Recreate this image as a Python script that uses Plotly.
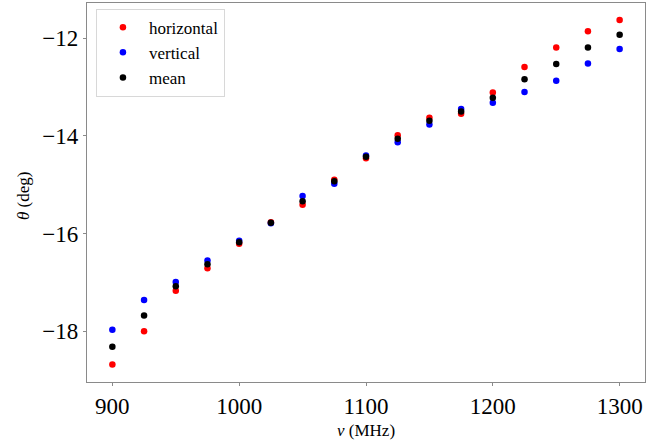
import plotly.graph_objects as go

freq = [900, 925, 950, 975, 1000, 1025, 1050, 1075, 1100, 1125, 1150, 1175, 1200, 1225, 1250, 1275, 1300]
horizontal = [-18.68, -18.00, -17.17, -16.71, -16.21, -15.77, -15.41, -14.90, -14.46, -13.99, -13.63, -13.55, -13.11, -12.59, -12.19, -11.86, -11.63]
vertical = [-17.97, -17.36, -16.99, -16.55, -16.15, -15.79, -15.23, -14.98, -14.40, -14.13, -13.77, -13.45, -13.32, -13.10, -12.87, -12.52, -12.22]
mean = [-18.32, -17.68, -17.08, -16.63, -16.18, -15.78, -15.34, -14.93, -14.43, -14.06, -13.69, -13.50, -13.22, -12.84, -12.53, -12.19, -11.93]

xticks = [900, 1000, 1100, 1200, 1300]
yticks = [-18, -16, -14, -12]

FONT = "Liberation Serif"
W, H = 665, 441
ML, MR, MT, MB = 87, 20, 3, 59
PW, PH = W - ML - MR, H - MT - MB

fig = go.Figure()
for name, vals, col in [("horizontal", horizontal, "#ff0000"),
                        ("vertical", vertical, "#0000ff"),
                        ("mean", mean, "#000000")]:
    fig.add_trace(go.Scatter(x=freq, y=vals, mode="markers", name=name,
                             marker=dict(color=col, size=6.5, line=dict(width=0))))

axis_common = dict(showgrid=False, zeroline=False, showline=True, mirror=True,
                   linecolor="#8a8a8a", linewidth=1.2, ticks="outside", ticklen=3,
                   tickcolor="#8a8a8a", tickwidth=1, automargin=False,
                   tickfont=dict(family=FONT, size=23, color="#000"))

fig.update_layout(
    width=W, height=H,
    margin=dict(l=ML, r=MR, t=MT, b=MB, autoexpand=False),
    paper_bgcolor="white", plot_bgcolor="white",
    font=dict(family=FONT, color="#000"),
    xaxis=dict(range=[880, 1320], tickvals=xticks, ticktext=[str(t) for t in xticks],
               **axis_common),
    yaxis=dict(range=[-19.04, -11.28], tickvals=yticks,
               ticktext=["\u2212" + str(-t) for t in yticks],
               **axis_common),
    legend=dict(x=0.016, y=0.985, xanchor="left", yanchor="top",
                bgcolor="rgba(255,255,255,0.8)", bordercolor="#d8d8d8", borderwidth=1,
                font=dict(family=FONT, size=17, color="#000"),
                itemwidth=42, tracegroupgap=0),
    showlegend=True,
    annotations=[
        dict(text="<i>ν</i> (MHz)", xref="paper", yref="paper",
             x=0.5, y=-(430 - (H - MB)) / PH, xanchor="center", yanchor="middle",
             showarrow=False, font=dict(family=FONT, size=17, color="#000")),
        dict(text="<i>θ</i> (deg)", xref="paper", yref="paper",
             x=(23 - ML) / PW, y=((H - MB) - 196) / PH, xanchor="center", yanchor="middle",
             textangle=-90, showarrow=False, font=dict(family=FONT, size=17, color="#000")),
    ],
)

fig.write_html("out.html", config={"displayModeBar": False},
               post_script="document.body.style.margin='0';document.body.style.padding='0';")
